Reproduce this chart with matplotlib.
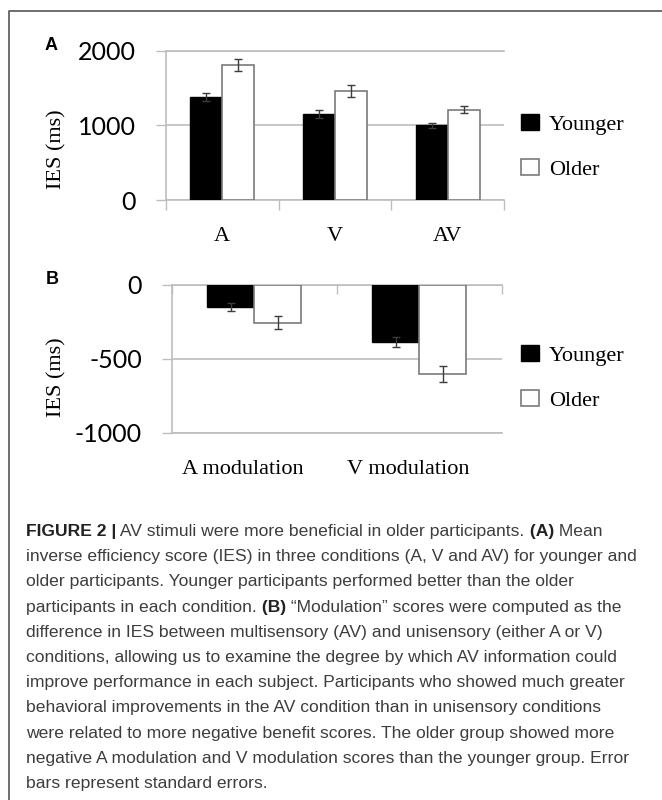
import numpy as np
import matplotlib
matplotlib.use("Agg")
from matplotlib import pyplot as plt
from matplotlib.patches import Patch
from matplotlib.lines import Line2D
from matplotlib.transforms import ScaledTranslation

# panel A: mean IES per condition
conditions = ['A', 'V', 'AV']
young_ies = [1381, 1148, 1000]
young_se = [52, 54, 36]
old_ies = [1810, 1457, 1206]
old_se = [80, 81, 47]

# panel B: modulation scores
mod_labels = ['A modulation', 'V modulation']
young_mod = [-147, -384]
young_mod_se = [27, 34]
old_mod = [-255, -603]
old_mod_se = [43, 57]

groups = ['Younger', 'Older']

W, H = 662, 800
grid_col = '#bdbdbd'
err_col = '#3c3c3c'
serif = 'Liberation Serif'

plt.rcParams['font.family'] = ['Liberation Sans', 'DejaVu Sans']

fig = plt.figure(figsize=(W / 100, H / 100), dpi=100)


def fx(px):
	return px / W


def fy(py):
	return 1 - py / H


def draw_panel(ax, cats, young, young_err, old, old_err, ylim, yticks, top_axis):
	x = np.arange(len(cats))
	w = 0.285
	ax.bar(x - w / 2, young, w, color='black', edgecolor='black', linewidth=1, zorder=3)
	ax.bar(x + w / 2, old, w, color='white', edgecolor='#7a7a7a', linewidth=1.2, zorder=3)
	ax.errorbar(x - w / 2, young, yerr=young_err, fmt='none', ecolor=err_col, elinewidth=1, capsize=3, capthick=1, zorder=4)
	ax.errorbar(x + w / 2, old, yerr=old_err, fmt='none', ecolor=err_col, elinewidth=1, capsize=3, capthick=1, zorder=4)
	ax.set_xlim(-0.5, len(cats) - 0.5)
	ax.set_ylim(*ylim)
	ax.set_yticks(yticks)
	ax.set_yticklabels([str(t) for t in yticks])
	for lab in ax.get_yticklabels():
		lab.set_fontfamily('Lato')
		lab.set_fontsize(18)
	ax.tick_params(axis='y', length=7.5, width=1, color=grid_col, pad=14)
	ax.yaxis.grid(True, color=grid_col, linewidth=1.2, zorder=0)
	ax.set_axisbelow(True)
	for s in ['left', 'top', 'bottom']:
		ax.spines[s].set_color(grid_col)
		ax.spines[s].set_linewidth(1.2)
	ax.spines['right'].set_visible(False)
	# category boundary ticks and centered labels
	ax.set_xticks(np.arange(len(cats) + 1) - 0.5)
	ax.set_xticklabels([])
	ax.set_xticks(x, minor=True)
	ax.set_xticklabels(cats, minor=True, fontfamily=serif, fontsize=16)
	if top_axis:
		ax.tick_params(axis='x', which='major', bottom=False, top=True, direction='in',
					   length=6.7, width=1, color=grid_col)
	else:
		ax.tick_params(axis='x', which='major', length=7.2, width=1, color=grid_col)
	ax.tick_params(axis='x', which='minor', length=0, pad=19.5)


def add_legend(ax, top_px):
	handles = [Patch(facecolor='black', edgecolor='black', linewidth=1),
			   Patch(facecolor='white', edgecolor='#7a7a7a', linewidth=1.2)]
	ax.legend(handles, groups, loc='upper left', bbox_to_anchor=(fx(521), fy(top_px)),
			  bbox_transform=fig.transFigure, frameon=False, borderpad=0, borderaxespad=0,
			  handlelength=0.8, handleheight=0.75, handletextpad=0.45, labelspacing=1.08,
			  prop={'family': serif, 'size': 16})


# panel A
axA = fig.add_axes([fx(165.7), fy(200), fx(504.3 - 165.7), (200 - 50.7) / H])
draw_panel(axA, conditions, young_ies, young_se, old_ies, old_se, (0, 2000), [0, 1000, 2000], False)
add_legend(axA, 114)
fig.text(fx(57), fy(149), 'IES (ms)', rotation=90, ha='center', va='center', family=serif, fontsize=16)
fig.text(fx(51), fy(45), 'A', ha='center', va='center', fontsize=13, fontweight='bold')

# panel B
axB = fig.add_axes([fx(171.7), fy(432.7), fx(501.7 - 171.7), (432.7 - 285) / H])
draw_panel(axB, mod_labels, young_mod, young_mod_se, old_mod, old_mod_se, (-1000, 0), [-1000, -500, 0], True)
for lab in axB.get_xticklabels(minor=True):
	lab.set_transform(lab.get_transform() + ScaledTranslation(-0.11, 0, fig.dpi_scale_trans))
add_legend(axB, 345)
fig.text(fx(57), fy(377), 'IES (ms)', rotation=90, ha='center', va='center', family=serif, fontsize=16)
fig.text(fx(52), fy(280), 'B', ha='center', va='center', fontsize=13, fontweight='bold')

# figure frame (left and top edge only)
fig.add_artist(Line2D([fx(9), fx(9), 1], [0, fy(11), fy(11)], transform=fig.transFigure,
					  color='#555555', linewidth=1.2))

# caption, bold pieces marked with True
caption = [
	[('FIGURE 2 |', True), (' AV stimuli were more beneficial in older participants.', False), (' (A)', True), (' Mean', False)],
	[('inverse efficiency score (IES) in three conditions (A, V and AV) for younger and', False)],
	[('older participants. Younger participants performed better than the older', False)],
	[('participants in each condition.', False), (' (B)', True), (' \u201cModulation\u201d scores were computed as the', False)],
	[('difference in IES between multisensory (AV) and unisensory (either A or V)', False)],
	[('conditions, allowing us to examine the degree by which AV information could', False)],
	[('improve performance in each subject. Participants who showed much greater', False)],
	[('behavioral improvements in the AV condition than in unisensory conditions', False)],
	[('were related to more negative benefit scores. The older group showed more', False)],
	[('negative A modulation and V modulation scores than the younger group. Error', False)],
	[('bars represent standard errors.', False)],
]

renderer = fig.canvas.get_renderer()
for i, line in enumerate(caption):
	x = 26
	y = 536 + 25.2 * i
	for piece, bold in line:
		t = fig.text(fx(x), fy(y), piece, ha='left', va='baseline', fontsize=12.6,
					 fontweight='bold' if bold else 'normal',
					 color='#222222' if bold else '#3d3d3d')
		x += t.get_window_extent(renderer).width

fig.savefig('out.png', dpi=100)
